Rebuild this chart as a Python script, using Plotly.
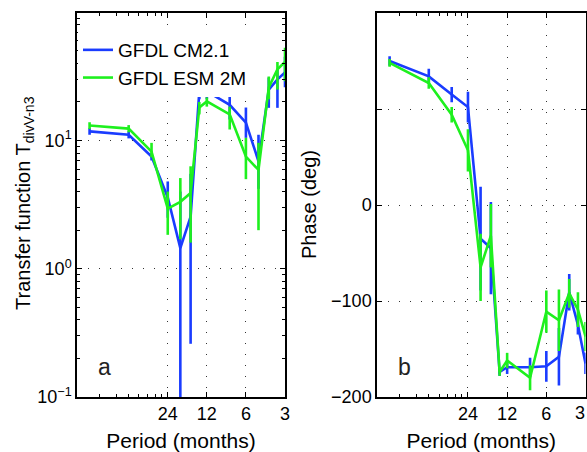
import plotly.graph_objects as go

# ---------------- data ----------------
period_months = [96, 48, 32, 24, 19.2, 16, 13.71, 12, 8, 6, 4.8, 4, 3.43, 3]

amp_cm21 = [11.8, 11.1, 7.5, 3.6, 1.45, 2.55, 24.2, 24.2, 19.0, 13.8, 6.9, 25.0, 30.0, 34.0]
amp_cm21_hi = [12.5, 11.8, 8.0, 4.8, 4.0, 5.5, 26.0, 26.0, 22.0, 18.1, 11.1, 31.0, 36.0, 45.0]
amp_cm21_lo = [11.1, 10.4, 7.0, 2.5, 0.05, 0.26, 21.0, 21.0, 14.6, 10.5, 4.2, 18.0, 18.0, 26.0]

amp_esm2m = [13.1, 12.4, 8.2, 2.95, 3.33, 3.9, 18.1, 20.2, 16.0, 7.5, 5.9, 26.0, 36.0, 41.0]
amp_esm2m_hi = [13.9, 13.2, 9.6, 4.0, 5.1, 6.3, 20.0, 21.7, 18.4, 10.5, 9.6, 31.6, 41.0, 53.0]
amp_esm2m_lo = [12.3, 11.6, 7.4, 1.84, 1.7, 1.6, 16.0, 18.4, 12.2, 5.0, 2.0, 21.0, 25.0, 29.0]

phase_cm21 = [150, 134, 115, 102, -35, -45, -174, -169, -169, -168, -158, -91, -125, -165]
phase_cm21_err = [5, 8, 8, 16, 54, 48, 4, 7, 10, 16, 30, 19, 10, 11]

phase_esm2m = [148, 127, 94, 57, -65, -32, -174, -162, -180, -111, -120, -92, -109, -137]
phase_esm2m_err = [4, 6, 8, 22, 35, 33, 4, 8, 13, 22, 32, 15, 18, 15]

tick_periods = [24, 12, 6, 3]
tick_labels = ["24", "12", "6", "3"]
minor_periods = [80, 60, 48, 40, 34.3, 30, 26.7]

# ---------------- figure ----------------
freq = [1.0 / p for p in period_months]
BLUE = "#1a3cff"
GREEN = "#1ef01e"
LW = 2.6

def errs(v, hi, lo):
    return [h - x for h, x in zip(hi, v)], [x - l for x, l in zip(v, lo)]

b_up, b_dn = errs(amp_cm21, amp_cm21_hi, amp_cm21_lo)
g_up, g_dn = errs(amp_esm2m, amp_esm2m_hi, amp_esm2m_lo)

fig = go.Figure()
fig.add_trace(go.Scatter(x=freq, y=amp_cm21, mode="lines", name="GFDL CM2.1",
                         line=dict(color=BLUE, width=LW),
                         error_y=dict(type="data", symmetric=False, array=b_up, arrayminus=b_dn,
                                      color=BLUE, thickness=LW, width=0),
                         xaxis="x", yaxis="y"))
fig.add_trace(go.Scatter(x=freq, y=amp_esm2m, mode="lines", name="GFDL ESM 2M",
                         line=dict(color=GREEN, width=LW),
                         error_y=dict(type="data", symmetric=False, array=g_up, arrayminus=g_dn,
                                      color=GREEN, thickness=LW, width=0),
                         xaxis="x", yaxis="y"))
fig.add_trace(go.Scatter(x=freq, y=phase_cm21, mode="lines", showlegend=False,
                         line=dict(color=BLUE, width=LW),
                         error_y=dict(type="data", array=phase_cm21_err,
                                      color=BLUE, thickness=LW, width=0),
                         xaxis="x2", yaxis="y2"))
fig.add_trace(go.Scatter(x=freq, y=phase_esm2m, mode="lines", showlegend=False,
                         line=dict(color=GREEN, width=LW),
                         error_y=dict(type="data", array=phase_esm2m_err,
                                      color=GREEN, thickness=LW, width=0),
                         xaxis="x2", yaxis="y2"))

W, H = 587, 452
FONT = "Liberation Sans, Arial, sans-serif"
grid = dict(showgrid=True, gridcolor="#333333", gridwidth=1, griddash="1px,10px")
common = dict(showline=True, linecolor="black", linewidth=1.5, mirror="allticks",
              ticks="inside", ticklen=5, tickcolor="black", tickwidth=1,
              zeroline=False, automargin=False,
              tickfont=dict(size=18, color="black", family=FONT), **grid)

xcommon = dict(type="log", range=[-2.0792, -0.4771],
               tickmode="array", tickvals=[1.0 / p for p in tick_periods], ticktext=tick_labels,
               minor=dict(tickmode="array", tickvals=[1.0 / p for p in minor_periods],
                          ticks="inside", ticklen=3, tickcolor="black", showgrid=False),
               title=dict(text="Period (months)", font=dict(size=21, color="black", family=FONT),
                          standoff=11),
               **common)

ydom = [(H - 397) / H, (H - 13) / H]
minor_y = [m * d for d in (0.1, 1, 10) for m in range(2, 10)]

fig.update_layout(
    width=W, height=H, margin=dict(l=0, r=0, t=0, b=0),
    paper_bgcolor="white", plot_bgcolor="white",
    font=dict(family=FONT, color="black"),
    xaxis=dict(domain=[77 / W, 285 / W], anchor="y", **xcommon),
    xaxis2=dict(domain=[377 / W, 585.5 / W], anchor="y2", **xcommon),
    yaxis=dict(domain=ydom, anchor="x", type="log", range=[-1, 1.995],
               tickmode="array", tickvals=[0.1, 1, 10],
               ticktext=["10<sup>−1</sup>", "10<sup>0</sup>", "10<sup>1</sup>"],
               minor=dict(tickmode="array", tickvals=minor_y, ticks="inside", ticklen=3,
                          tickcolor="black", showgrid=False),
               **common),
    yaxis2=dict(domain=ydom, anchor="x2", range=[-200, 200],
                tickmode="array", tickvals=[-200, -100, 0, 100],
                ticktext=["−200", "−100", "0", ""],
                **common),
    legend=dict(x=78 / W, y=1 - 31 / H, xanchor="left", yanchor="top",
                bgcolor="white", borderwidth=0,
                font=dict(size=19, color="black", family=FONT),
                tracegroupgap=0, itemwidth=30),
    annotations=[
        dict(text="Transfer function T<sub>divV-n3</sub>", x=24 / W, y=1 - 203 / H,
             xref="paper", yref="paper", xanchor="center", yanchor="middle",
             textangle=-90, showarrow=False,
             font=dict(size=20, color="black", family=FONT)),
        dict(text="Phase (deg)", x=309 / W, y=1 - 205 / H,
             xref="paper", yref="paper", xanchor="center", yanchor="middle",
             textangle=-90, showarrow=False,
             font=dict(size=20, color="black", family=FONT)),
        dict(text=tick_labels[-1], x=1.0, y=1 - 413 / H,
             xref="paper", yref="paper", xanchor="right", yanchor="middle",
             showarrow=False, font=dict(size=18, color="black", family=FONT)),
        dict(text="a", x=96 / W, y=1 - 367 / H, xref="paper", yref="paper",
             xanchor="left", yanchor="middle", showarrow=False,
             font=dict(size=23, color="#222", family=FONT)),
        dict(text="b", x=396 / W, y=1 - 367 / H, xref="paper", yref="paper",
             xanchor="left", yanchor="middle", showarrow=False,
             font=dict(size=23, color="#222", family=FONT)),
    ],
)

fig.write_html("out.html")
